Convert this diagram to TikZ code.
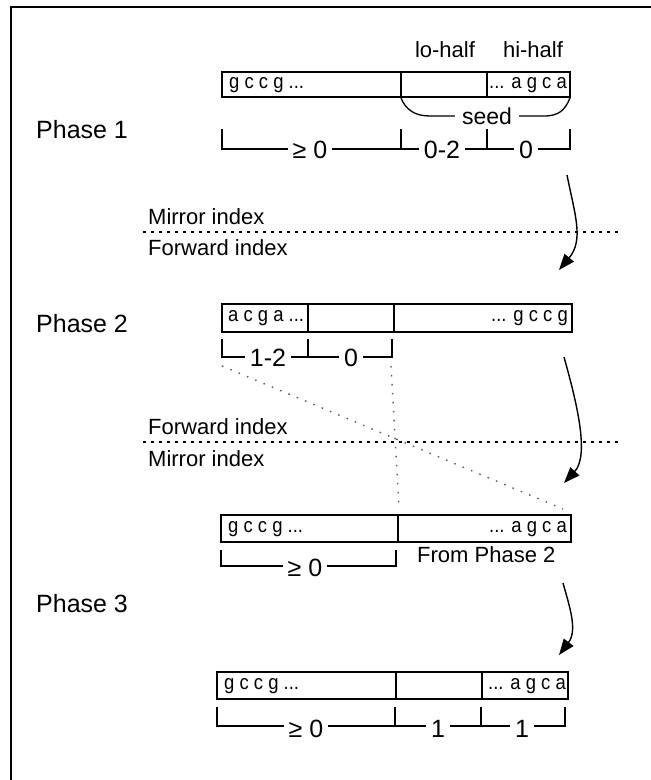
\documentclass[tikz,border=0pt]{standalone}
\usepackage{fontspec}
\setmainfont{Liberation Sans}
\newfontfamily\seqfont{Liberation Sans}[FakeStretch=0.9]
\usetikzlibrary{arrows.meta}
\tikzset{
  cellbox/.style={draw, line width=1.3pt},
  brk/.style={line width=1.3pt},
  brklab/.style={fill=white, inner xsep=5pt, inner ysep=3pt, font=\fontsize{25}{27}\selectfont},
  seqtxt/.style={inner sep=0pt, font=\seqfont\fontsize{20.5}{22}\selectfont},
  lab/.style={inner sep=0pt, font=\fontsize{22}{24}\selectfont},
  phaselab/.style={inner sep=0pt, anchor=west, font=\fontsize{25}{28}\selectfont},
  sep/.style={line width=1.3pt, dash pattern=on 3pt off 5pt},
  guide/.style={line width=1.4pt, black!65, dash pattern=on 1.5pt off 7.5pt},
  flow/.style={line width=1.4pt, -{Triangle[length=16pt,width=12pt]}}
}
\begin{document}
\begin{tikzpicture}[x=1pt,y=-1pt]
\useasboundingbox (0,0) rectangle (651,780);
% frame
\draw[line width=2pt] (11,780) -- (11,7) -- (651,7);

% ---------- Phase 1 ----------
\node[phaselab] (ph1) at (36,130) {Phase 1};
\node[lab, anchor=base] (lo) at (445,57) {lo-half};
\node[lab, anchor=base] (hi) at (533,57) {hi-half};
\draw[cellbox] (222,72) rectangle (570,97);
\draw[cellbox] (401,72) -- (401,97);
\draw[cellbox] (487,72) -- (487,97);
\node[seqtxt, anchor=west] (s1a) at (229,85) {g c c g ...};
\node[seqtxt, anchor=east] (s1b) at (567,85) {... a g c a};
% seed brace
\node[font=\fontsize{23}{25}\selectfont, inner sep=0pt, anchor=base, fill=white, inner xsep=7pt, inner ysep=2pt] (seed) at (487,124) {seed};
\coordinate (sdl) at (401,98);
\coordinate (sdr) at (570,98);
\draw[brk] (sdl) .. controls (406,110) and (415,116) .. (430,116) -- (seed.west |- 0,116);
\draw[brk] (seed.east |- 0,116) -- (544,116) .. controls (559,116) and (565,110) .. (sdr);
% brackets
\draw[brk] (222,129) -- (222,149) -- (570,149) -- (570,129);
\draw[brk] (401,129) -- (401,149);
\draw[brk] (487,129) -- (487,149);
\node[brklab] (b1a) at (310,150) {≥ 0};
\node[brklab] (b1b) at (442,150) {0-2};
\node[brklab] (b1c) at (526,150) {0};

% separator 1
\draw[sep] (143,232) -- (622,232);
\node[lab, anchor=west] (mi1) at (148,217) {Mirror index};
\node[lab, anchor=west] (fi1) at (148,248) {Forward index};

% arrow 1
\coordinate (a1s) at (567,175);
\coordinate (a1e) at (559,270);
\draw[flow] (a1s) .. controls (575,215) and (584,240) .. (a1e);

% ---------- Phase 2 ----------
\node[phaselab] (ph2) at (36,324) {Phase 2};
\draw[cellbox] (222,304) rectangle (572,332);
\draw[cellbox] (308,304) -- (308,332);
\draw[cellbox] (394,304) -- (394,332);
\node[seqtxt, anchor=west] (s2a) at (228,318) {a c g a ...};
\node[seqtxt, anchor=east] (s2b) at (568,318) {... g c c g};
\coordinate (b2l) at (222,357);
\coordinate (b2r) at (392,357);
\draw[brk] (222,339) -- (b2l) -- (b2r) -- (392,339);
\draw[brk] (308,339) -- (308,357);
\node[brklab] (b2a) at (268,358) {1-2};
\node[brklab] (b2b) at (351,358) {0};

% guide lines
\coordinate (g1s) at (222,366);
\coordinate (g1e) at (563,509);
\coordinate (g2s) at (391,366);
\coordinate (g2e) at (399,506);
\draw[guide] (g1s) -- (g1e);
\draw[guide] (g2s) -- (g2e);

% separator 2
\draw[sep] (143,442) -- (622,442);
\node[lab, anchor=west] (fi2) at (148,427) {Forward index};
\node[lab, anchor=west] (mi2) at (148,459) {Mirror index};

% arrow 2
\coordinate (a2s) at (564,357);
\coordinate (a2e) at (564,483);
\draw[flow] (a2s) .. controls (576,400) and (590,455) .. (a2e);

% ---------- Phase 3 ----------
\node[phaselab] (ph3) at (36,604) {Phase 3};
\draw[cellbox] (221,515) rectangle (571,542);
\draw[cellbox] (398,515) -- (398,542);
\node[seqtxt, anchor=west] (s3a) at (228,529) {g c c g ...};
\node[seqtxt, anchor=east] (s3b) at (567,529) {... a g c a};
\draw[brk] (221,550) -- (221,566) -- (396,566) -- (396,550);
\node[brklab] (b3a) at (305,568) {≥ 0};
\node[lab, anchor=west] (fp2) at (417,555) {From Phase 2};

% arrow 3
\coordinate (a3s) at (563,583);
\coordinate (a3e) at (559,655);
\draw[flow] (a3s) .. controls (569,605) and (578,630) .. (a3e);

\draw[cellbox] (217,672) rectangle (568,699);
\draw[cellbox] (396,672) -- (396,699);
\draw[cellbox] (482,672) -- (482,699);
\node[seqtxt, anchor=west] (s4a) at (224,686) {g c c g ...};
\node[seqtxt, anchor=east] (s4b) at (566,686) {... a g c a};
\draw[brk] (217,707) -- (217,726) -- (565,726) -- (565,707);
\draw[brk] (395,707) -- (395,726);
\draw[brk] (481,707) -- (481,726);
\node[brklab] (b4a) at (306,729) {≥ 0};
\node[brklab] (b4b) at (438,729) {1};
\node[brklab] (b4c) at (522,729) {1};
\end{tikzpicture}
\end{document}
